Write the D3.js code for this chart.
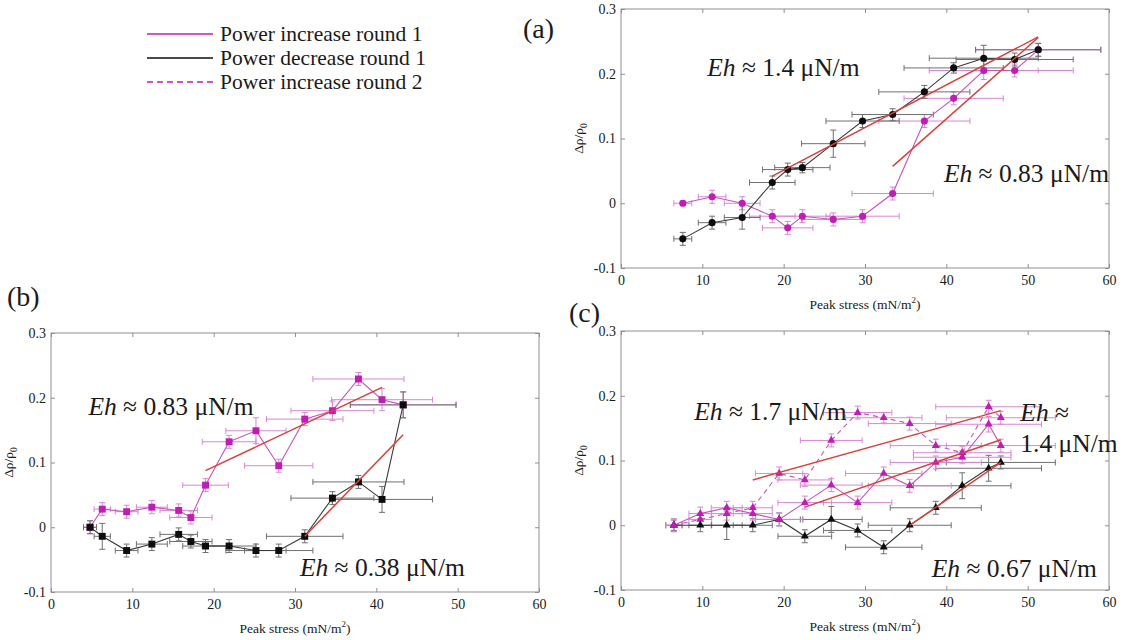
<!DOCTYPE html>
<html><head><meta charset="utf-8">
<script src="https://cdn.jsdelivr.net/npm/d3@7"></script>
<style>
body{margin:0;background:#fff}
svg{display:block}
text{font-family:"Liberation Serif","Times New Roman",serif;fill:#1a1a1a}
</style>
</head><body>
<svg id="fig" width="1131" height="640"></svg>
<script>
// ---------- panel (a): circles ----------
const stressA    = [7.6, 11.2, 14.9, 18.6, 20.5, 22.3, 26.1, 29.7, 33.4, 37.3, 40.9, 44.6, 48.4, 51.3];
const stressErrA = [1.1, 1.7, 2.2, 2.8, 3.1, 3.4, 3.9, 4.5, 5.0, 5.6, 6.1, 6.7, 7.2, 7.7];
const incA       = [0, 0.010, 0, -0.020, -0.038, -0.020, -0.025, -0.020, 0.015, 0.127, 0.162, 0.205, 0.205, 0.237];
const incErrA    = [0.004, 0.010, 0.010, 0.010, 0.010, 0.010, 0.010, 0.010, 0.010, 0.010, 0.010, 0.014, 0.010, 0.010];
const decA       = [-0.055, -0.030, -0.022, 0.032, 0.052, 0.055, 0.092, 0.127, 0.137, 0.172, 0.209, 0.224, 0.222, 0.237];
const decErrA    = [0.010, 0.010, 0.018, 0.010, 0.010, 0.008, 0.021, 0.010, 0.009, 0.010, 0.008, 0.020, 0.010, 0.010];
const fitsA      = [[[18.6, 0.042], [51.3, 0.257]], [[33.4, 0.057], [51.3, 0.256]]];

// ---------- panel (b): squares ----------
const stressB    = [4.8, 6.3, 9.3, 12.4, 15.7, 17.2, 19.0, 21.9, 25.2, 28.0, 31.2, 34.6, 37.8, 40.7, 43.3];
const stressErrB = [0.8, 1.0, 1.4, 1.9, 2.3, 2.6, 2.8, 3.3, 3.7, 4.2, 4.7, 5.1, 5.6, 6.2, 6.5];
const incB       = [0, 0.028, 0.024, 0.031, 0.026, 0.015, 0.065, 0.132, 0.149, 0.095, 0.167, 0.180, 0.229, 0.197, 0.189];
const incErrB    = [0.010, 0.010, 0.010, 0.010, 0.010, 0.010, 0.010, 0.010, 0.020, 0.010, 0.010, 0.015, 0.010, 0.017, 0.020];
const decB       = [0, -0.014, -0.036, -0.026, -0.011, -0.022, -0.029, -0.029, -0.036, -0.036, -0.014, 0.045, 0.070, 0.043, 0.189];
const decErrB    = [0.010, 0.020, 0.010, 0.010, 0.010, 0.010, 0.010, 0.010, 0.010, 0.010, 0.010, 0.010, 0.010, 0.020, 0.020];
const fitsB      = [[[19.0, 0.0875], [40.7, 0.216]], [[31.2, -0.014], [43.3, 0.143]]];

// ---------- panel (c): triangles ----------
const stressC    = [6.5, 9.75, 13.0, 16.2, 19.45, 22.6, 25.85, 29.1, 32.3, 35.5, 38.7, 41.95, 45.2, 46.7];
const stressErrC = [1.0, 1.4, 1.9, 2.4, 2.9, 3.3, 3.8, 4.2, 4.7, 5.1, 5.6, 6.0, 6.5, 6.7];
const inc1C      = [0, 0.018, 0.027, 0.018, 0.009, 0.035, 0.062, 0.035, 0.080, 0.061, 0.097, 0.105, 0.156, 0.123];
const inc1ErrC   = [0.010, 0.010, 0.010, 0.010, 0.010, 0.010, 0.010, 0.010, 0.010, 0.010, 0.010, 0.010, 0.012, 0.010];
const decC       = [0, 0, 0, 0, 0.009, -0.017, 0.009, -0.008, -0.034, 0, 0.027, 0.061, 0.088, 0.097];
const decErrC    = [0.008, 0.010, 0.022, 0.010, 0.010, 0.010, 0.020, 0.010, 0.010, 0.010, 0.010, 0.020, 0.020, 0.010];
const inc2C      = [0, 0.009, 0.018, 0.027, 0.080, 0.070, 0.131, 0.174, 0.166, 0.157, 0.123, 0.112, 0.183, 0.166];
const inc2ErrC   = [0.010, 0.010, 0.010, 0.010, 0.010, 0.010, 0.010, 0.010, 0.008, 0.010, 0.010, 0.010, 0.010, 0.010];
const fitsC      = [[[16.2, 0.070], [46.7, 0.177]], [[22.6, 0.028], [46.7, 0.132]], [[35.5, 0], [46.7, 0.097]]];

// ---------- axes ----------
const xTicks = [0, 10, 20, 30, 40, 50, 60];
const yTicks = [-0.1, 0, 0.1, 0.2, 0.3];
const legendLabels = ["Power increase round 1", "Power decrease round 1", "Power increase round 2"];

const MAG = "#c01cb6", MAG_ERR = "#d987d4", MAG_LINE = "#c653c0";
const BLK = "#0d0d0d", BLK_ERR = "#707070", BLK_LINE = "#3a3a3a";
const FIT = "#d6423b", FRAME = "#8f8f8f";

const svg = d3.select("#fig");

function zip(xs, ys, xe, ye) {
  return xs.map((v, i) => ({x: v, y: ys[i], xe: xe[i], ye: ye[i]}));
}

function drawPanel(box, series, fits, notes) {
  const x = d3.scaleLinear().domain([0, 60]).range([box.l, box.r]);
  const y = d3.scaleLinear().domain([-0.1, 0.3]).range([box.b, box.t]);
  const g = svg.append("g");

  const yFmt = d => d === 0 ? "0" : (d < 0 ? "-" : "") + Math.abs(d).toFixed(1);

  const styleAxis = sel => {
    sel.select(".domain").remove();
    sel.selectAll(".tick line").attr("stroke", FRAME);
    sel.selectAll(".tick text").attr("font-size", 14).attr("font-family", "Liberation Serif").attr("fill", "#1a1a1a");
  };
  g.append("g").attr("transform", `translate(0,${box.b})`)
    .call(d3.axisBottom(x).tickValues(xTicks).tickSize(-4).tickPadding(7).tickFormat(d3.format("d"))).call(styleAxis);
  g.append("g").attr("transform", `translate(0,${box.t})`)
    .call(d3.axisTop(x).tickValues(xTicks).tickSize(-4).tickFormat("")).call(styleAxis);
  g.append("g").attr("transform", `translate(${box.l},0)`)
    .call(d3.axisLeft(y).tickValues(yTicks).tickSize(-4).tickPadding(5).tickFormat(yFmt)).call(styleAxis);
  g.append("g").attr("transform", `translate(${box.r},0)`)
    .call(d3.axisRight(y).tickValues(yTicks).tickSize(-4).tickFormat("")).call(styleAxis);

  g.append("rect").attr("x", box.l).attr("y", box.t)
    .attr("width", box.r - box.l).attr("height", box.b - box.t)
    .attr("fill", "none").attr("stroke", FRAME).attr("stroke-width", 1);

  // axis titles
  const xt = g.append("text").attr("x", (box.l + box.r) / 2).attr("y", box.b + 41)
    .attr("text-anchor", "middle").attr("font-size", 13.5);
  xt.append("tspan").text("Peak stress (mN/m");
  xt.append("tspan").attr("font-size", 9).attr("dy", -6).text("2");
  xt.append("tspan").attr("dy", 6).text(")");

  const yt = g.append("text")
    .attr("transform", `translate(${box.l - 38},${(box.t + box.b) / 2}) rotate(-90)`)
    .attr("text-anchor", "middle").attr("font-size", 13.5);
  yt.append("tspan").text("Δρ/ρ");
  yt.append("tspan").attr("font-size", 9.5).attr("dy", 4).text("0");

  const cap = 3;
  // error bars
  series.forEach(s => {
    const eg = g.append("g").attr("stroke", s.err).attr("stroke-width", 1).attr("fill", "none");
    s.pts.forEach(p => {
      const cx = x(p.x), cy = y(p.y);
      const x0 = x(p.x - p.xe), x1 = x(p.x + p.xe), y0 = y(p.y - p.ye), y1 = y(p.y + p.ye);
      eg.append("line").attr("x1", x0).attr("x2", x1).attr("y1", cy).attr("y2", cy);
      eg.append("line").attr("x1", x0).attr("x2", x0).attr("y1", cy - cap).attr("y2", cy + cap);
      eg.append("line").attr("x1", x1).attr("x2", x1).attr("y1", cy - cap).attr("y2", cy + cap);
      eg.append("line").attr("x1", cx).attr("x2", cx).attr("y1", y0).attr("y2", y1);
      eg.append("line").attr("x1", cx - cap).attr("x2", cx + cap).attr("y1", y0).attr("y2", y0);
      eg.append("line").attr("x1", cx - cap).attr("x2", cx + cap).attr("y1", y1).attr("y2", y1);
    });
  });

  // connecting lines
  const line = d3.line().x(p => x(p.x)).y(p => y(p.y));
  series.forEach(s => {
    g.append("path").datum(s.pts).attr("d", line)
      .attr("fill", "none").attr("stroke", s.line).attr("stroke-width", 1.1)
      .attr("stroke-dasharray", s.dash || null);
  });

  // markers
  series.forEach(s => {
    g.append("g").selectAll("path").data(s.pts).join("path")
      .attr("transform", p => `translate(${x(p.x)},${y(p.y)})`)
      .attr("d", d3.symbol().type(s.symbol).size(s.size))
      .attr("fill", s.color);
  });

  // linear fits
  fits.forEach(f => {
    g.append("line")
      .attr("x1", x(f[0][0])).attr("y1", y(f[0][1]))
      .attr("x2", x(f[1][0])).attr("y2", y(f[1][1]))
      .attr("stroke", FIT).attr("stroke-width", 1.5);
  });

  // Eh annotations
  notes.forEach(n => {
    const t = g.append("text").attr("x", x(n.x)).attr("y", y(n.y)).attr("font-size", 25.5);
    if (n.eh) {
      t.append("tspan").attr("font-style", "italic").text("Eh");
      t.append("tspan").text(" ≈ " + (n.val || ""));
    } else {
      t.append("tspan").text(n.val);
    }
  });
  return g;
}

function label(txt, xp, yp) {
  svg.append("text").attr("x", xp).attr("y", yp).attr("font-size", 28).text(txt);
}

// panel (a)
drawPanel({l: 621, r: 1109, t: 9, b: 268}, [
  {pts: zip(stressA, incA, stressErrA, incErrA), color: MAG, err: MAG_ERR, line: MAG_LINE, symbol: d3.symbolCircle, size: 40},
  {pts: zip(stressA, decA, stressErrA, decErrA), color: BLK, err: BLK_ERR, line: BLK_LINE, symbol: d3.symbolCircle, size: 40}
], fitsA, [
  {x: 10.6, y: 0.196, eh: true, val: "1.4 μN/m"},
  {x: 39.7, y: 0.033, eh: true, val: "0.83 μN/m"}
]);

// panel (b)
drawPanel({l: 51, r: 539, t: 333, b: 592}, [
  {pts: zip(stressB, incB, stressErrB, incErrB), color: MAG, err: MAG_ERR, line: MAG_LINE, symbol: d3.symbolSquare, size: 48},
  {pts: zip(stressB, decB, stressErrB, decErrB), color: BLK, err: BLK_ERR, line: BLK_LINE, symbol: d3.symbolSquare, size: 48}
], fitsB, [
  {x: 4.6, y: 0.174, eh: true, val: "0.83 μN/m"},
  {x: 30.6, y: -0.075, eh: true, val: "0.38 μN/m"}
]);

// panel (c)
drawPanel({l: 621, r: 1109, t: 331, b: 590}, [
  {pts: zip(stressC, inc2C, stressErrC, inc2ErrC), color: MAG, err: MAG_ERR, line: MAG_LINE, symbol: d3.symbolTriangle, size: 28, dash: "5,4"},
  {pts: zip(stressC, decC, stressErrC, decErrC), color: BLK, err: BLK_ERR, line: BLK_LINE, symbol: d3.symbolTriangle, size: 28},
  {pts: zip(stressC, inc1C, stressErrC, inc1ErrC), color: MAG, err: MAG_ERR, line: MAG_LINE, symbol: d3.symbolTriangle, size: 28}
], fitsC, [
  {x: 9.0, y: 0.163, eh: true, val: "1.7 μN/m"},
  {x: 49.1, y: 0.1615, eh: true, val: ""},
  {x: 49.1, y: 0.1125, eh: false, val: "1.4 μN/m"},
  {x: 38.2, y: -0.080, eh: true, val: "0.67 μN/m"}
]);

label("(a)", 523, 38);
label("(b)", 7, 306);
label("(c)", 569, 322);

// legend
const legendStyles = [
  {stroke: MAG, dash: null},
  {stroke: BLK, dash: null},
  {stroke: MAG, dash: "6,4"}
];
const legend = svg.append("g");
legendLabels.forEach((txt, i) => {
  const ly = 34 + i * 24;
  legend.append("line").attr("x1", 147).attr("x2", 213).attr("y1", ly).attr("y2", ly)
    .attr("stroke", legendStyles[i].stroke).attr("stroke-width", 1.6)
    .attr("stroke-dasharray", legendStyles[i].dash);
  legend.append("text").attr("x", 220).attr("y", ly + 7).attr("font-size", 21.5).text(txt);
});
</script>
</body></html>
